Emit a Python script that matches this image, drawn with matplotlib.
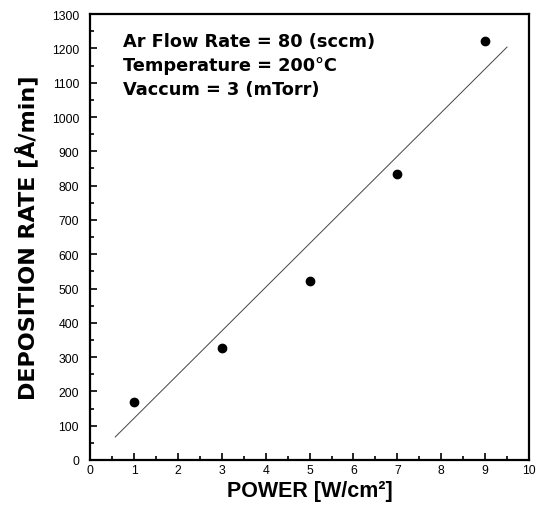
import matplotlib
matplotlib.use("Agg")
import matplotlib.pyplot as plt
from matplotlib.ticker import MultipleLocator

plt.rcParams["font.family"] = ["Liberation Sans", "DejaVu Sans"]

# measured points
power = [1, 3, 5, 7, 9]
dep_rate = [169, 327, 522, 833, 1221]

# linear fit line as drawn (end points)
fit_x = [0.57, 9.5]
fit_y = [67, 1204]

notes = ["Ar Flow Rate = 80 (sccm)", "Temperature = 200°C", "Vaccum = 3 (mTorr)"]

fig = plt.figure(figsize=(5.37, 5.06), dpi=100)
ax = fig.add_axes([0.168, 0.089, 0.817, 0.881])

ax.plot(fit_x, fit_y, color="#444444", lw=0.7)
ax.plot(power, dep_rate, "o", color="black", ms=6)

ax.set_xlim(0, 10)
ax.set_ylim(0, 1300)
ax.xaxis.set_major_locator(MultipleLocator(1))
ax.xaxis.set_minor_locator(MultipleLocator(0.5))
ax.yaxis.set_major_locator(MultipleLocator(100))
ax.yaxis.set_minor_locator(MultipleLocator(50))
ax.tick_params(which="both", direction="in", top=False, right=False, width=1.2)
ax.tick_params(which="major", length=5, labelsize=8.8)
ax.tick_params(which="minor", length=3)
ax.tick_params(axis="x", which="major", pad=3)
ax.tick_params(axis="y", which="major", pad=8)
for sp in ax.spines.values():
    sp.set_linewidth(1.6)

ax.set_xlabel("POWER [W/cm²]", fontsize=15.5, fontweight="bold", labelpad=3)
ax.set_ylabel("DEPOSITION RATE [Å/min]", fontsize=16, fontweight="bold",
              family="DejaVu Sans", labelpad=10)

for i, t in enumerate(notes):
    ax.text(0.075, 0.939 - i * 0.053, t, transform=ax.transAxes, fontsize=12.8,
            fontweight="bold", family="DejaVu Sans", va="center", ha="left")

fig.savefig("out.png", dpi=100)
